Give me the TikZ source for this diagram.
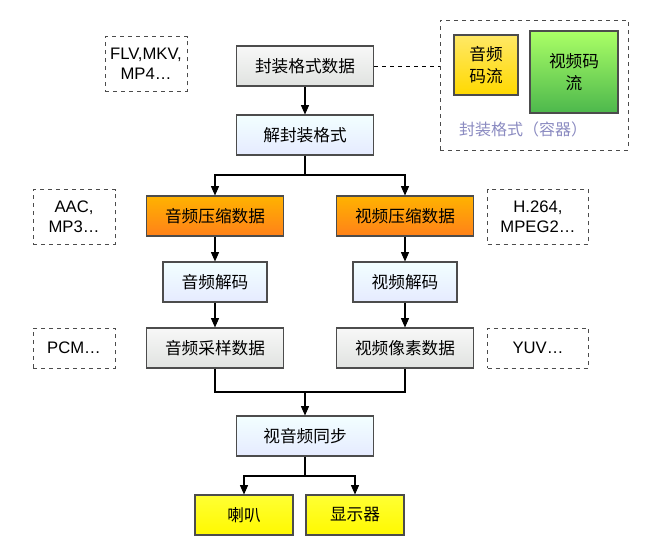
\documentclass[tikz,border=0pt]{standalone}
\usepackage{fontspec}
\setmainfont{Noto Sans CJK SC}
\usetikzlibrary{arrows.meta}
\begin{document}
\begin{tikzpicture}[x=0.75pt,y=-0.75pt,
  box/.style={draw=black!70,line width=0.8pt,minimum width=#1*0.75pt,minimum height=30pt,inner sep=0pt,font=\fontsize{12.5}{14}\selectfont},
  box/.default=137,
  gray/.style={top color=black!3,bottom color=green!8!black!12},
  blue/.style={top color=cyan!5,bottom color=cyan!20!blue!10!white},
  orange/.style={top color=orange!60!yellow,bottom color=orange!90!red!90},
  yel/.style={top color=yellow!80,bottom color=yellow!95!orange},
  note/.style={draw=black!70,dashed,line width=0.6pt,minimum width=82*0.75pt,minimum height=41pt,align=center,font=\fontsize{12.5}{15}\selectfont\sffamily},
  arr/.style={-{Triangle[length=7pt,width=6pt]},line width=0.8pt}]
\useasboundingbox (0,0) rectangle (658,540);
\setsansfont{Liberation Sans}
% top
\node[box,gray] (fz) at (305,66) {封装格式数据};
\node[note] (flv) at (146,64) {FLV,MKV,\\MP4…};
\node[draw=black!70,dashed,line width=0.7pt,minimum width=188*0.75pt,minimum height=130*0.75pt] (ct) at (534,85) {};
\node[draw=black!70,line width=0.8pt,top color=yellow!70!orange!60,bottom color=yellow!70!orange,minimum width=64*0.75pt,minimum height=60*0.75pt,align=center,font=\fontsize{12.5}{16}\selectfont] (ap) at (486,65) {音频\\码流};
\node[draw=black!70,line width=0.8pt,top color=green!40!lime!60,bottom color=green!60!black!70,minimum width=88*0.75pt,minimum height=82*0.75pt,align=center,font=\fontsize{12.5}{16}\selectfont] (vp) at (574,72) {视频码\\流};
\node[text=blue!30!gray!70,font=\fontsize{12}{14}\selectfont] (ctl) at (523,129) {封装格式（容器）};
\draw[dashed,line width=0.7pt] (fz.east) -- (ct.west |- fz.east);
\node[box,blue] (jf) at (305,135) {解封装格式};
\draw[arr] (fz) -- (jf);
% compressed
\node[box,orange] (ac) at (215,216) {音频压缩数据};
\node[box,orange] (vc) at (405,216) {视频压缩数据};
\node[note] (aac) at (74,217) {AAC,\\MP3…};
\node[note,minimum width=101*0.75pt] (h264) at (538,217) {H.264,\\MPEG2…};
\coordinate (s1) at (305,175);
\draw[line width=0.8pt] (jf.south) -- (s1);
\draw[arr] (s1) -| (ac.north);
\draw[arr] (s1) -| (vc.north);
\node[box=104,blue] (ad) at (215,282) {音频解码};
\node[box=104,blue] (vd) at (405,282) {视频解码};
\draw[arr] (ac) -- (ad);
\draw[arr] (vc) -- (vd);
\node[box,gray] (as) at (215,348) {音频采样数据};
\node[box,gray] (vs) at (405,348) {视频像素数据};
\draw[arr] (ad) -- (as);
\draw[arr] (vd) -- (vs);
\node[note,minimum height=30pt] (pcm) at (74,348) {PCM…};
\node[note,minimum height=30pt,minimum width=101*0.75pt] (yuv) at (538,348) {YUV…};
% sync
\node[box,blue] (sy) at (305,436) {视音频同步};
\coordinate (m1) at (305,392);
\draw[line width=0.8pt] (as.south) |- (m1) -| (vs.south);
\draw[arr] (m1) -- (sy.north);
\node[box=98,yel] (lb) at (244,515) {喇叭};
\node[box=98,yel] (xs) at (355,515) {显示器};
\coordinate (s2) at (305,476);
\draw[line width=0.8pt] (sy.south) -- (s2);
\draw[arr] (s2) -| (lb.north);
\draw[arr] (s2) -| (xs.north);
\end{tikzpicture}
\end{document}
